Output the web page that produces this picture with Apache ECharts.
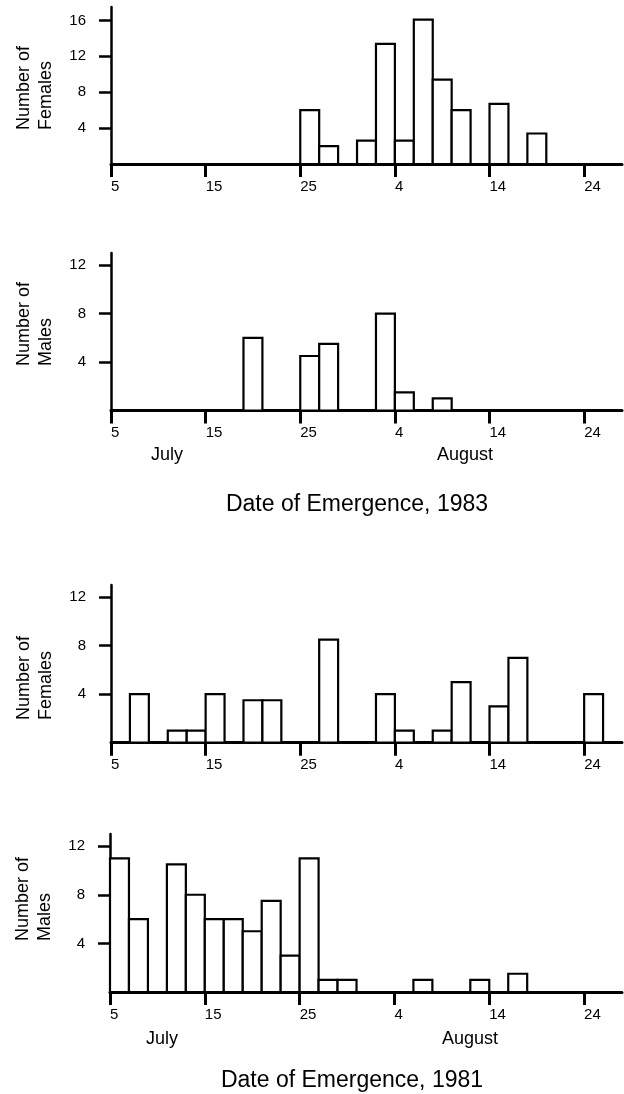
<!DOCTYPE html>
<html><head><meta charset="utf-8">
<style>html,body{margin:0;padding:0;background:#fff}#chart{width:624px;height:1094px}</style>
<script src="https://cdn.jsdelivr.net/npm/echarts@6/dist/echarts.min.js"></script>
</head><body><div id="chart"></div>
<script>
// Day index: 0 = July 5 (bins are two days wide)
const xTickValues = [0, 10, 20, 30, 40, 50];
const xTickLabels = ['5', '15', '25', '4', '14', '24'];
const BIN_DAYS = 2;

const females1983Start = [20, 22, 26, 28, 30, 32, 34, 36, 40, 44];
const females1983Count = [6, 2, 2.6, 13.4, 2.6, 16.1, 9.4, 6, 6.7, 3.4];
const males1983Start = [14, 20, 22, 28, 30, 34];
const males1983Count = [6, 4.5, 5.5, 8, 1.5, 1];
const females1981Start = [2, 6, 8, 10, 14, 16, 22, 28, 30, 34, 36, 40, 42, 50];
const females1981Count = [4, 1, 1, 4, 3.5, 3.5, 8.5, 4, 1, 1, 5, 3, 7, 4];
const males1981Start = [0, 2, 6, 8, 10, 12, 14, 16, 18, 20, 22, 24, 32, 38, 42];
const males1981Count = [11, 6, 10.5, 8, 6, 6, 5, 7.5, 3, 11, 1, 1, 1, 1, 1.5];

const yTicksFemales1983 = [4, 8, 12, 16];
const yTicksOther = [4, 8, 12];

const FONT = "'Liberation Sans', Arial, Helvetica, sans-serif";

const panels = [
  { start: females1983Start, count: females1983Count, yTicks: yTicksFemales1983, yMax: 17.5, top: 7, height: 157, left: 111 },
  { start: males1983Start, count: males1983Count, yTicks: yTicksOther, yMax: 13, top: 253, height: 157.5, left: 111 },
  { start: females1981Start, count: females1981Count, yTicks: yTicksOther, yMax: 13, top: 585, height: 157.7, left: 111 },
  { start: males1981Start, count: males1981Count, yTicks: yTicksOther, yMax: 13, top: 834, height: 158, left: 110 }
];

function renderBar(params, api) {
  const s = api.value(0), c = api.value(1);
  const p0 = api.coord([s, 0]);
  const p1 = api.coord([s + BIN_DAYS, c]);
  return {
    type: 'rect',
    shape: { x: p0[0], y: p1[1], width: p1[0] - p0[0], height: p0[1] - p1[1] },
    style: { fill: '#fff', stroke: '#000', lineWidth: 2.2 }
  };
}

const grid = [], xAxis = [], yAxis = [], series = [];
panels.forEach((p, i) => {
  grid.push({ left: p.left, width: 622 - p.left, top: p.top, height: p.height, outerBoundsMode: 'none', containLabel: false });
  xAxis.push({
    type: 'value', gridIndex: i, min: 0, max: 54, interval: 10,
    splitLine: { show: false },
    axisLine: { show: true, onZero: true, lineStyle: { color: '#000', width: 3 } },
    axisTick: { show: true, customValues: xTickValues, length: 13, lineStyle: { color: '#000', width: 3 } },
    axisLabel: {
      customValues: xTickValues, margin: 15, align: 'left',
      fontSize: 15, fontFamily: FONT, color: '#000',
      formatter: v => xTickLabels[xTickValues.indexOf(v)] || ''
    }
  });
  yAxis.push({
    type: 'value', gridIndex: i, min: 0, max: p.yMax, interval: 4,
    splitLine: { show: false },
    axisLine: { show: true, lineStyle: { color: '#000', width: 2.5 } },
    axisTick: { show: true, customValues: p.yTicks, length: 12, lineStyle: { color: '#000', width: 2.5 } },
    axisLabel: { customValues: p.yTicks, margin: 25, fontSize: 15, fontFamily: FONT, color: '#000' }
  });
  series.push({
    type: 'custom', xAxisIndex: i, yAxisIndex: i,
    renderItem: renderBar,
    encode: { x: 0, y: 1 },
    data: p.start.map((s, k) => [s, p.count[k]]),
    z: 1
  });
});

function txt(x, y, text, opts) {
  return Object.assign({
    type: 'text', x: x, y: y,
    style: Object.assign({ text: text, fill: '#000', fontFamily: FONT, fontSize: 18, align: 'center', verticalAlign: 'middle' }, opts || {})
  });
}
function yName(x, y, text) {
  const t = txt(x, y, text, { align: 'left', verticalAlign: 'middle', lineHeight: 22, fontSize: 18 });
  t.rotation = Math.PI / 2;
  return t;
}

const graphic = [
  yName(35, 130, 'Number of\nFemales'),
  yName(35, 366, 'Number of\nMales'),
  yName(35, 720, 'Number of\nFemales'),
  yName(34, 941, 'Number of\nMales'),
  txt(167, 455, 'July'),
  txt(465, 455, 'August'),
  txt(357, 505, 'Date of Emergence, 1983', { fontSize: 23 }),
  txt(162, 1039, 'July'),
  txt(470, 1039, 'August'),
  txt(352, 1081, 'Date of Emergence, 1981', { fontSize: 23 })
];

const chart = echarts.init(document.getElementById('chart'), null, { renderer: 'canvas' });
chart.setOption({
  animation: false,
  backgroundColor: '#fff',
  grid: grid, xAxis: xAxis, yAxis: yAxis, series: series, graphic: graphic
});
</script></body></html>
